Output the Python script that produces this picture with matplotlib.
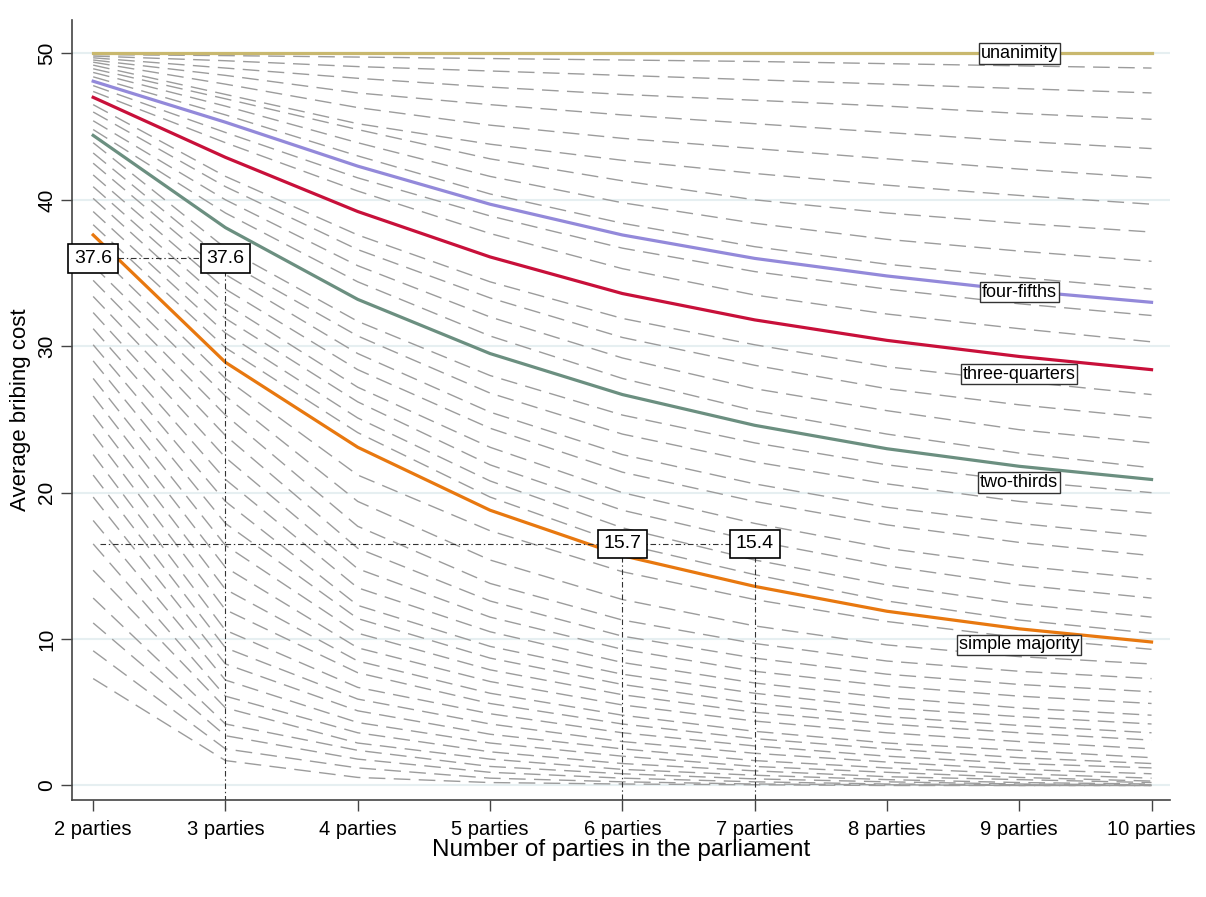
import matplotlib.pyplot as plt

plt.rcParams['font.family'] = ['Liberation Sans', 'DejaVu Sans']
plt.rcParams['lines.scale_dashes'] = False

# x axis: number of parties
parties = [2, 3, 4, 5, 6, 7, 8, 9, 10]
party_labels = ['%d parties' % n for n in parties]

# average bribing cost for the named thresholds
unanimity = [50.0, 50.0, 50.0, 50.0, 50.0, 50.0, 50.0, 50.0, 50.0]
four_fifths = [48.1, 45.3, 42.3, 39.7, 37.6, 36.0, 34.8, 33.8, 33.0]
three_quarters = [47.0, 42.9, 39.2, 36.1, 33.6, 31.8, 30.4, 29.3, 28.4]
two_thirds = [44.4, 38.1, 33.2, 29.5, 26.7, 24.6, 23.0, 21.8, 20.9]
simple_majority = [37.6, 28.9, 23.1, 18.8, 15.7, 13.6, 11.9, 10.7, 9.8]

# all the other thresholds (grey dashed), read column by column, lowest line first
gray_2 = [7.3, 9.2, 11.1, 12.8, 14.7, 16.5, 18.1, 19.7, 21.2, 22.6, 24.0, 25.3, 26.6, 27.8, 29.0, 30.1,
          31.2, 32.3, 33.4, 34.5, 35.5, 36.6, 38.3, 39.2, 40.1, 40.9, 41.7, 42.5, 43.2, 43.9, 44.8, 45.4,
          46.0, 46.5, 47.0, 47.4, 47.8, 48.4, 48.7, 48.95, 49.2, 49.4, 49.55, 49.7, 49.82, 49.92]
gray_3 = [1.7, 2.5, 3.4, 4.2, 5.3, 6.1, 7.2, 8.3, 9.4, 10.6, 12.0, 13.4, 14.9, 16.4, 17.9, 19.4,
          20.9, 22.4, 23.9, 25.3, 26.6, 27.8, 29.9, 30.9, 31.9, 32.9, 33.9, 34.9, 35.8, 36.7, 39.1, 40.0,
          40.9, 41.6, 42.9, 43.9, 44.6, 45.8, 46.4, 46.9, 47.2, 47.9, 48.5, 49.0, 49.5, 49.85]
gray_4 = [0.55, 1.2, 1.8, 2.4, 2.9, 3.6, 4.3, 5.1, 5.9, 6.7, 7.7, 8.5, 9.4, 10.4, 11.4, 12.3,
          13.5, 14.8, 16.2, 17.7, 19.4, 21.2, 24.1, 25.1, 26.2, 27.2, 28.4, 29.5, 30.7, 31.7, 34.4, 35.5,
          36.6, 37.6, 39.2, 40.6, 41.5, 43.0, 43.9, 44.8, 45.2, 46.3, 47.3, 48.3, 49.1, 49.75]
gray_5 = [0.2, 0.5, 0.9, 1.3, 1.8, 2.3, 2.9, 3.5, 4.2, 4.9, 5.6, 6.3, 7.1, 7.9, 8.7, 9.5,
          10.5, 11.5, 12.6, 13.8, 15.4, 17.4, 19.7, 20.8, 21.9, 23.1, 24.4, 25.5, 26.8, 28.0, 30.7, 32.0,
          33.3, 34.4, 36.1, 37.7, 38.9, 40.4, 41.6, 42.8, 43.8, 45.1, 46.5, 47.7, 48.8, 49.65]
gray_6 = [0.1, 0.25, 0.5, 0.8, 1.1, 1.5, 2.0, 2.5, 3.0, 3.6, 4.2, 4.8, 5.5, 6.2, 6.9, 7.6,
          8.4, 9.3, 10.2, 11.3, 12.7, 14.6, 16.5, 17.6, 18.8, 20.0, 21.4, 22.6, 24.0, 25.3, 27.8, 29.2,
          30.6, 31.9, 33.6, 35.3, 36.7, 38.4, 39.8, 41.3, 42.7, 44.2, 45.8, 47.2, 48.5, 49.55]
gray_7 = [0.05, 0.1, 0.25, 0.45, 0.7, 1.0, 1.3, 1.7, 2.2, 2.7, 3.2, 3.7, 4.4, 5.0, 5.6, 6.3,
          7.0, 7.8, 8.7, 9.7, 10.9, 12.7, 14.4, 15.4, 16.7, 17.9, 19.4, 20.6, 22.1, 23.4, 25.6, 27.1,
          28.7, 30.1, 31.8, 33.5, 35.1, 36.8, 38.4, 40.0, 41.8, 43.5, 45.2, 46.8, 48.2, 49.45]
gray_8 = [0.0, 0.05, 0.1, 0.25, 0.4, 0.6, 0.9, 1.2, 1.6, 2.0, 2.5, 2.9, 3.6, 4.2, 4.7, 5.3,
          6.0, 6.8, 7.6, 8.5, 9.6, 11.2, 12.6, 13.7, 15.0, 16.2, 17.8, 19.0, 20.6, 21.9, 24.0, 25.6,
          27.1, 28.6, 30.4, 32.2, 33.9, 35.6, 37.3, 39.1, 41.0, 42.8, 44.6, 46.4, 47.9, 49.3]
gray_9 = [0.0, 0.0, 0.05, 0.1, 0.2, 0.4, 0.55, 0.8, 1.1, 1.5, 1.9, 2.4, 3.0, 3.6, 4.1, 4.7,
          5.3, 6.1, 6.9, 7.8, 8.8, 10.1, 11.3, 12.4, 13.7, 15.0, 16.6, 17.9, 19.4, 20.8, 22.7, 24.3,
          26.0, 27.6, 29.3, 31.2, 32.9, 34.7, 36.5, 38.4, 40.3, 42.1, 44.0, 45.9, 47.6, 49.15]
gray_10 = [0.0, 0.0, 0.0, 0.05, 0.1, 0.2, 0.3, 0.5, 0.8, 1.2, 1.5, 1.9, 2.5, 3.1, 3.6, 4.2,
           4.8, 5.6, 6.4, 7.3, 8.3, 9.3, 10.4, 11.5, 12.8, 14.1, 15.7, 17.0, 18.6, 20.0, 21.7, 23.4,
           25.1, 26.7, 28.4, 30.3, 32.1, 33.9, 35.8, 37.8, 39.7, 41.5, 43.5, 45.5, 47.3, 49.0]
gray_cols = [gray_2, gray_3, gray_4, gray_5, gray_6, gray_7, gray_8, gray_9, gray_10]

series = [
    ('unanimity', unanimity, '#C9B86E', 50.0),
    ('four-fifths', four_fifths, '#9389DA', 33.7),
    ('three-quarters', three_quarters, '#C8103A', 28.1),
    ('two-thirds', two_thirds, '#6B8F80', 20.7),
    ('simple majority', simple_majority, '#E8780F', 9.6),
]

fig = plt.figure(figsize=(12.06, 8.97), dpi=100)
ax = fig.add_axes([0.0597, 0.108, 0.9105, 0.87])

for i in range(len(gray_2)):
    ax.plot(parties, [col[i] for col in gray_cols], color='#9C9C9C', lw=1.0,
            dashes=(12, 6), zorder=2)

for name, vals, col, ylab in series:
    ax.plot(parties, vals, color=col, lw=2.3, zorder=3)
    ax.text(9.0, ylab, name, ha='center', va='center', fontsize=13, zorder=6,
            bbox=dict(boxstyle='square,pad=0.1', fc='white', ec='#333333', lw=1))

# reference lines
ref = dict(color='#333333', lw=0.8, dashes=(4, 2, 1, 2), zorder=4)
ax.plot([2, 3], [36.0, 36.0], **ref)
ax.plot([3, 3], [36.0, -1.0], **ref)
ax.plot([2.05, 7], [16.5, 16.5], **ref)
ax.plot([6, 6], [16.5, -1.0], **ref)
ax.plot([7, 7], [16.5, -1.0], **ref)

boxes = [(2, 36.0, '37.6'), (3, 36.0, '37.6'), (6, 16.5, '15.7'), (7, 16.5, '15.4')]
for bx, by, bt in boxes:
    ax.text(bx, by, bt, ha='center', va='center', fontsize=14, zorder=7,
            bbox=dict(boxstyle='square,pad=0.3', fc='white', ec='black', lw=1.2))

ax.set_xlim(1.84, 10.14)
ax.set_ylim(-1.0, 52.3)
ax.set_xticks(parties)
ax.set_xticklabels(party_labels, fontsize=14.5)
ax.set_yticks([0, 10, 20, 30, 40, 50])
ax.set_yticklabels(['0', '10', '20', '30', '40', '50'], fontsize=15, rotation=90, va='center')
ax.tick_params(axis='both', length=8, width=1, color='#444444')
ax.tick_params(axis='x', pad=6)
ax.grid(axis='y', color='#E6EFF1', lw=1.5, zorder=0)
ax.set_axisbelow(True)
for s in ['top', 'right']:
    ax.spines[s].set_visible(False)
for s in ['left', 'bottom']:
    ax.spines[s].set_color('#444444')
    ax.spines[s].set_linewidth(1.2)

ax.set_xlabel('Number of parties in the parliament', fontsize=17.5, labelpad=0)
ax.set_ylabel('Average bribing cost', fontsize=16, labelpad=4)

fig.savefig('out.png', dpi=100)
